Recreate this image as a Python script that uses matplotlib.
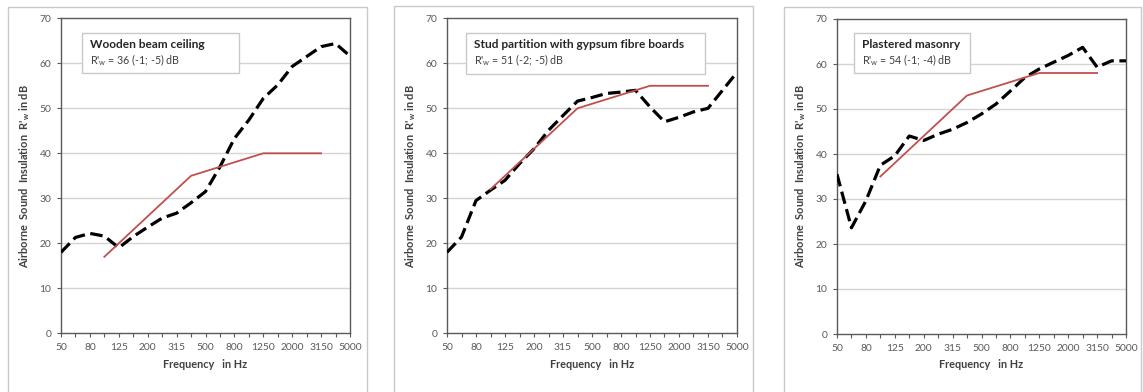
import numpy as np
import matplotlib
matplotlib.use("Agg")
import matplotlib.pyplot as plt
from matplotlib.patches import Rectangle

# ---------------- data ----------------
freq_bands = ["50", "63", "80", "100", "125", "160", "200", "250", "315", "400",
              "500", "630", "800", "1000", "1250", "1600", "2000", "2500",
              "3150", "4000", "5000"]

nan = np.nan
wood_measured = [18, 21.3, 22.2, 21.6, 19, 21.5, 23.6, 25.6, 26.7, 29, 31.5,
                 37, 43.3, 47.4, 52.2, 55.2, 59.3, 61.5, 63.7, 64.4, 61.6]
wood_reference = [nan, nan, nan, 17, 20, 23, 26, 29, 32, 35, 36, 37, 38, 39,
                  40, 40, 40, 40, 40, nan, nan]

stud_measured = [18, 21.4, 29.5, 31.8, 34, 37.7, 41, 45.1, 48.4, 51.6, 52.4,
                 53.3, 53.6, 54, 50.3, 47, 48, 49.2, 50, 54, 58]
stud_reference = [nan, nan, nan, 32, 35, 38, 41, 44, 47, 50, 51, 52, 53, 54,
                  55, 55, 55, 55, 55, nan, nan]

masonry_measured = [35.5, 23.6, 29.6, 37.5, 39.6, 44, 43, 44.4, 45.5, 47,
                    48.9, 51.1, 54, 57, 58.9, 60.4, 61.9, 63.7, 59.3, 60.7, 60.7]
masonry_reference = [nan, nan, nan, 35, 38, 41, 44, 47, 50, 53, 54, 55, 56, 57,
                     58, 58, 58, 58, 58, nan, nan]

titles = ["Wooden beam ceiling",
          "Stud partition with gypsum fibre boards",
          "Plastered masonry"]
ratings = ["36 (-1; -5) dB", "51 (-2; -5) dB", "54 (-1; -4) dB"]

y_ticks = [0, 10, 20, 30, 40, 50, 60, 70]

# ---------------- style ----------------
plt.rcParams["font.family"] = ["Lato", "DejaVu Sans"]
plt.rcParams["mathtext.fontset"] = "custom"
plt.rcParams["mathtext.rm"] = "Lato"
plt.rcParams["mathtext.bf"] = "Lato:bold"
plt.rcParams["lines.scale_dashes"] = False

W, H = 1143, 392
fig = plt.figure(figsize=(W / 100, H / 100), dpi=100)
fig.patch.set_facecolor("white")

def fx(px):
    return px / W

def fy(py):
    return 1 - py / H

# panel frames (px): left, right, top
frames = [(8, 367, 7), (394, 753, 6), (784, 1141, 7)]
# axes (px): left, right, top, bottom
axes_px = [(61, 350, 18.3, 333.3), (447, 737, 18.3, 333.3), (837, 1126, 19, 334)]
# legend boxes (px): left, right, top, bottom
boxes = [(82, 239, 33, 73), (466, 705, 33, 74), (854, 970, 33, 73)]

measured = [wood_measured, stud_measured, masonry_measured]
reference = [wood_reference, stud_reference, masonry_reference]

grey_txt = "#595959"
x = np.arange(len(freq_bands))

for k in range(3):
    l, r, t = frames[k]
    fig.patches.append(Rectangle((fx(l), fy(t)), fx(r - l), -(fy(t) + 0.1),
                                 transform=fig.transFigure, fill=False,
                                 edgecolor="#c9c9c9", linewidth=1.0))
    al, ar, at, ab = axes_px[k]
    ax = fig.add_axes([fx(al), fy(ab), fx(ar - al), (ab - at) / H])
    ax.set_xlim(0, len(freq_bands) - 1)
    ax.set_ylim(0, 70)
    for yv in y_ticks[1:-1]:
        ax.axhline(yv, color="#d4d4d4", linewidth=1.0, zorder=1)
    ax.plot(x, measured[k], color="black", linewidth=2.3, zorder=3,
            dashes=(9.0, 4.0), dash_capstyle="butt")
    ax.plot(x, reference[k], color="#c0504d", linewidth=1.3, zorder=4)

    ax.set_xticks(x)
    ax.set_xticklabels([lab if i % 2 == 0 else "" for i, lab in enumerate(freq_bands)])
    ax.set_yticks(y_ticks)
    ax.tick_params(axis="both", direction="out", length=3, width=0.8,
                   color=grey_txt, labelcolor=grey_txt, labelsize=7.4, pad=4)
    for s in ax.spines.values():
        s.set_color("#5a5a5a")
        s.set_linewidth(1.0)

    ax.set_xlabel("Frequency   in Hz", fontsize=7.8, fontweight="bold", color="#404040")
    ax.xaxis.set_label_coords(0.5, -(365 - ab) / (ab - at))
    ax.xaxis.label.set_va("center")
    ax.set_ylabel(r"Airborne  Sound  Insulation  R'$_{\mathbf{w}}$ in dB",
                  fontsize=7.9, fontweight="bold", color="#404040")
    ax.yaxis.set_label_coords(-(al - 25 - frames[k][0] + 8) / (ar - al), 0.5)
    ax.yaxis.label.set_va("center")

    bl, br, bt, bb = boxes[k]
    fig.patches.append(Rectangle((fx(bl), fy(bb)), fx(br - bl), (bb - bt) / H,
                                 transform=fig.transFigure, facecolor="white",
                                 edgecolor="#c9c9c9", linewidth=1.0, zorder=5))
    fig.text(fx(bl + 8), fy(45), titles[k], fontsize=8.6, fontweight="bold",
             color="#262626", va="center", ha="left", zorder=6)
    fig.text(fx(bl + 8), fy(60), r"R'$_{\mathrm{w}}$ = " + ratings[k], fontsize=7.7,
             color="#404040", va="center", ha="left", zorder=6)

fig.savefig("out.png", dpi=100, facecolor="white")
